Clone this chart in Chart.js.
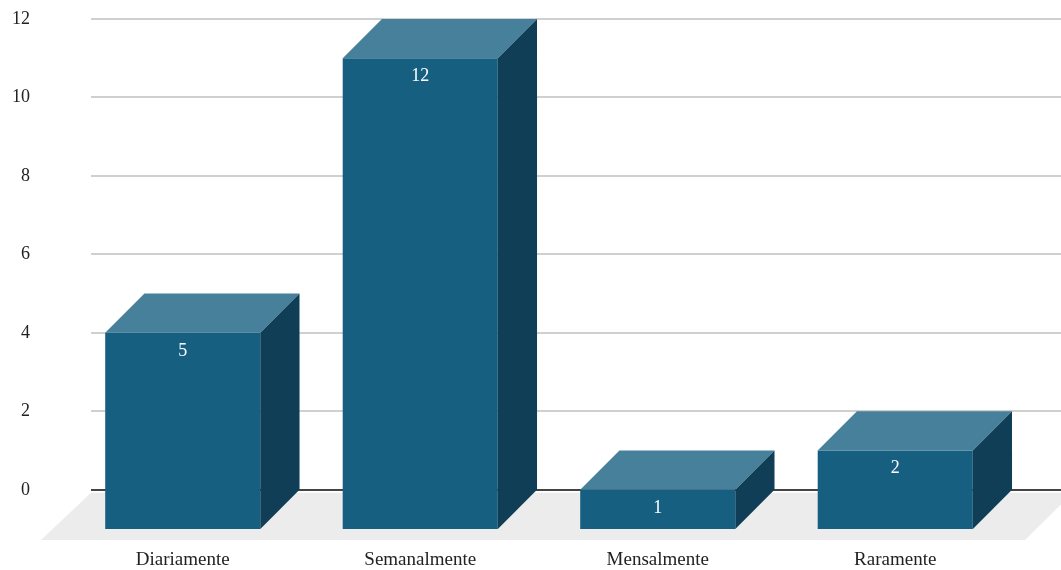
<!DOCTYPE html>
<html>
<head>
<meta charset="utf-8">
<title>Frequência</title>
<script src="https://cdn.jsdelivr.net/npm/chart.js@4/dist/chart.umd.min.js"></script>
<style>
  body { margin: 0; background: #fff; }
  .box { width: 1061px; height: 570px; position: relative; }
</style>
</head>
<body>
<div class="box"><canvas id="grafico"></canvas></div>
<script>
// dados
const categorias = ['Diariamente', 'Semanalmente', 'Mensalmente', 'Raramente'];
const valores = [5, 12, 1, 2];
const ticksY = [0, 2, 4, 6, 8, 10, 12];

const corFrente = '#175f81';
const corTopo = '#47809b';
const corLado = '#0f3e56';
const fonte = "'Liberation Serif', 'DejaVu Serif', serif";

// a face da frente fica uma unidade "à frente" do plano do eixo
const frente = valores.map(v => [-1, v - 1]);

const caixas3d = {
  id: 'caixas3d',
  beforeDatasetsDraw(chart) {
    const c = chart.ctx, y = chart.scales.y, a = chart.chartArea;
    const y0 = y.getPixelForValue(0), yf = y.getPixelForValue(-1);
    // chão cinza
    c.save();
    c.fillStyle = '#ececec';
    c.beginPath();
    c.moveTo(a.left + 27, y0 + 3);
    c.lineTo(a.right + 59, y0 + 3);
    c.lineTo(a.right + 11, yf + 11);
    c.lineTo(a.left - 23, yf + 11);
    c.closePath();
    c.fill();
    // linhas de grade
    ticksY.forEach(v => {
      const py = Math.round(y.getPixelForValue(v));
      c.strokeStyle = v === 0 ? '#444' : '#d0d0d0';
      c.lineWidth = 2;
      c.beginPath();
      c.moveTo(a.left + 27, py);
      c.lineTo(chart.width, py);
      c.stroke();
    });
    c.restore();
  },
  afterDatasetsDraw(chart) {
    const c = chart.ctx, y = chart.scales.y;
    const d = y.getPixelForValue(0) - y.getPixelForValue(1);
    c.save();
    chart.getDatasetMeta(0).data.forEach((bar, i) => {
      const l = bar.x - bar.width / 2, r = bar.x + bar.width / 2;
      const t = Math.min(bar.y, bar.base), b = Math.max(bar.y, bar.base);
      c.fillStyle = corTopo;
      c.beginPath();
      c.moveTo(l, t); c.lineTo(r, t); c.lineTo(r + d, t - d); c.lineTo(l + d, t - d);
      c.closePath(); c.fill();
      c.fillStyle = corLado;
      c.beginPath();
      c.moveTo(r, t); c.lineTo(r + d, t - d); c.lineTo(r + d, b - d); c.lineTo(r, b);
      c.closePath(); c.fill();
      // rótulo do valor
      c.fillStyle = '#fff';
      c.font = '18px ' + fonte;
      c.textAlign = 'center';
      c.textBaseline = 'middle';
      c.fillText(String(valores[i]), bar.x, t + 18);
    });
    c.restore();
  }
};

new Chart(document.getElementById('grafico'), {
  type: 'bar',
  data: {
    labels: categorias,
    datasets: [{
      data: frente,
      backgroundColor: corFrente,
      borderWidth: 0,
      categoryPercentage: 1,
      barPercentage: 0.653
    }]
  },
  options: {
    responsive: true,
    maintainAspectRatio: false,
    animation: false,
    layout: { padding: { top: 19, right: 47, left: 0, bottom: 0 } },
    plugins: { legend: { display: false }, tooltip: { enabled: false } },
    scales: {
      x: {
        grid: { display: false, drawTicks: false },
        border: { display: false },
        ticks: { color: '#222', font: { family: fonte, size: 19 }, padding: 20 },
        afterFit: s => { s.height = 41; s.paddingLeft = 0; s.paddingRight = 0; }
      },
      y: {
        min: -1,
        max: 12,
        grid: { display: false, drawTicks: false },
        border: { display: false },
        ticks: { color: '#222', font: { family: fonte, size: 18 }, padding: 34 },
        afterBuildTicks: s => { s.ticks = ticksY.map(v => ({ value: v })); },
        afterFit: s => { s.width = 64; s.paddingTop = 0; s.paddingBottom = 0; }
      }
    }
  },
  plugins: [caixas3d]
});
</script>
</body>
</html>
